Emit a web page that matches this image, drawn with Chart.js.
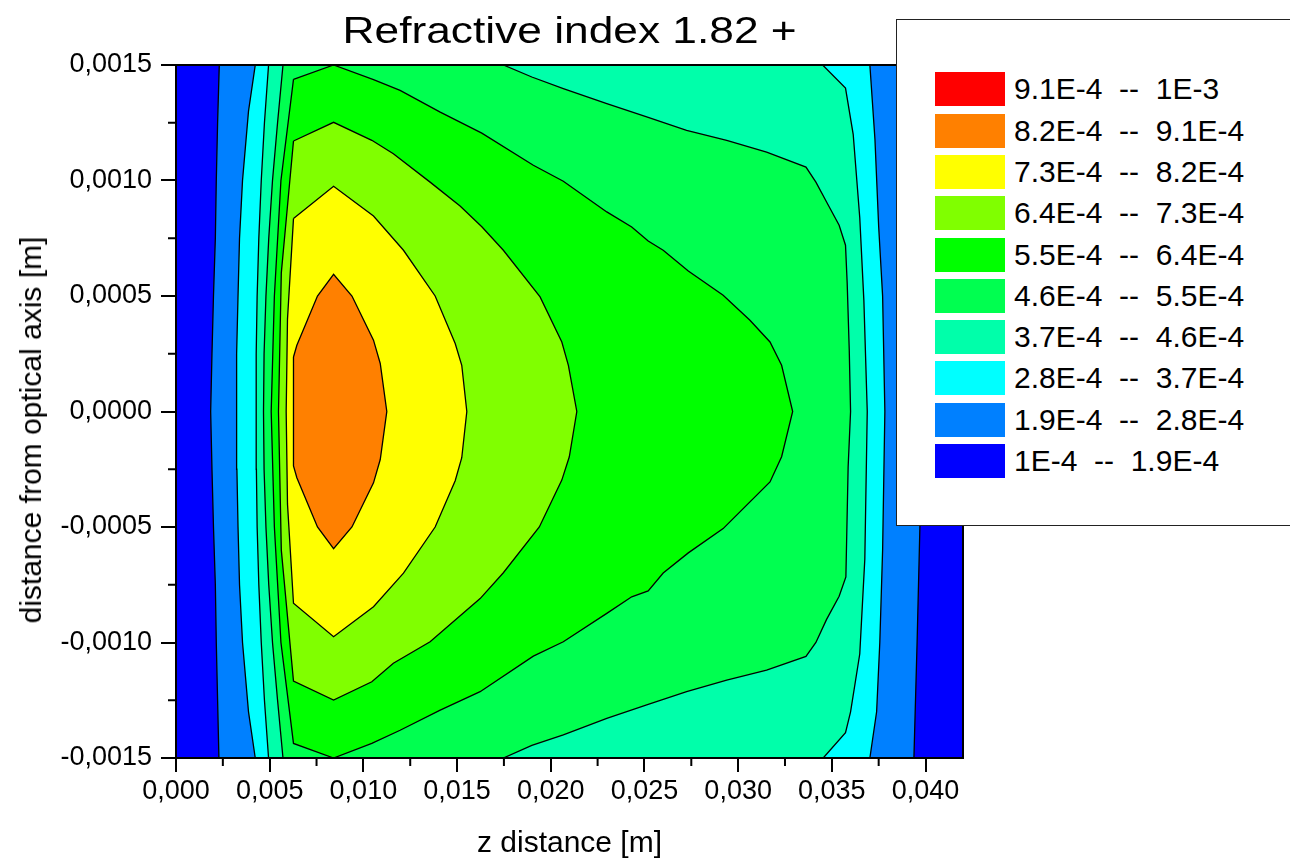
<!DOCTYPE html>
<html>
<head>
<meta charset="utf-8">
<title>Refractive index 1.82 +</title>
<script src="https://cdn.jsdelivr.net/npm/chart.js@4.4.1/dist/chart.umd.min.js"></script>
<style>
  body { margin: 0; background: #fff; font-family: 'Liberation Sans', Arial, sans-serif; color: #000; }
  #wrap { position: relative; width: 1290px; height: 859px; overflow: hidden; }
  #chart { position: absolute; left: 0; top: 0; }
  #title { position: absolute; left: 176px; width: 787px; top: 13px; text-align: center; font-size: 36px; line-height: 36px; }
  #title span { display: inline-block; transform: scaleX(1.23); }
  #ytitle { position: absolute; left: 31px; top: 430px; font-size: 30px; line-height: 30px; white-space: nowrap;
            transform: translate(-50%, -50%) rotate(-90deg); }
  #legend { position: absolute; left: 896px; top: 19px; width: 420px; height: 505px; background: #fff; border: 1px solid #222; }
  .row { position: absolute; left: 38px; height: 34px; display: flex; align-items: center; }
  .sw { width: 70px; height: 34px; margin-right: 9px; }
  .lab { font-size: 30px; line-height: 34px; white-space: pre; }
</style>
</head>
<body>
<div id="wrap">
  <canvas id="chart" width="1290" height="859"></canvas>
  <div id="title"><span>Refractive index 1.82 +</span></div>
  <div id="ytitle">distance from optical axis [m]</div>
  <div id="legend"></div>
</div>
<script>
// contour levels and band colours, lowest band first
const levels = ['1E-4', '1.9E-4', '2.8E-4', '3.7E-4', '4.6E-4', '5.5E-4', '6.4E-4', '7.3E-4', '8.2E-4', '9.1E-4', '1E-3'];
const bandColors = ['#0000ff', '#0080ff', '#00ffff', '#00ffaa', '#00ff50', '#00ff00', '#80ff00', '#ffff00', '#ff8000', '#ff0000'];

// axis ticks (scale values in mm, labels in m)
const zTicks = [0, 5, 10, 15, 20, 25, 30, 35, 40];
const zTickLabels = ['0,000', '0,005', '0,010', '0,015', '0,020', '0,025', '0,030', '0,035', '0,040'];
const zMinor = [2.5, 7.5, 12.5, 17.5, 22.5, 27.5, 32.5, 37.5];
const rTicks = [-1.5, -1, -0.5, 0, 0.5, 1, 1.5];
const rTickLabels = ['-0,0015', '-0,0010', '-0,0005', '0,0000', '0,0005', '0,0010', '0,0015'];
const rMinor = [-1.25, -0.75, -0.25, 0.25, 0.75, 1.25];

// outlines [z mm, r mm] of the area above each level
const above1E4 = [[0, 1.5], [42, 1.5], [42, -1.5], [0, -1.5]];
const above19E4 = [[2.31, 1.5], [39.38, 1.5], [39.55, 1.0], [39.7, 0.5], [39.78, 0], [39.7, -0.5], [39.55, -1.0], [39.38, -1.5],
  [2.29, -1.5], [2.22, -1.25], [2.15, -1.0], [2.1, -0.75], [2.0, -0.5], [1.92, -0.25], [1.85, 0],
  [1.92, 0.25], [2.0, 0.5], [2.1, 0.75], [2.15, 1.0], [2.22, 1.25]];
const above28E4 = [[4.23, 1.5], [37.03, 1.5], [37.3, 1.18], [37.5, 0.8], [37.71, 0.5], [37.83, 0], [37.71, -0.6], [37.56, -1.0],
  [37.39, -1.3], [37.03, -1.5], [4.23, -1.5], [3.87, -1.3], [3.55, -1.0], [3.39, -0.75], [3.31, -0.5], [3.25, -0.25], [3.22, 0],
  [3.25, 0.25], [3.31, 0.5], [3.39, 0.75], [3.55, 1.0], [3.87, 1.3]];
const above37E4 = [[4.94, 1.5], [34.51, 1.5], [35.73, 1.4], [36.14, 1.2], [36.49, 0.84], [36.71, 0.48], [36.89, 0],
  [36.76, -0.64], [36.49, -1.05], [36.0, -1.3], [35.73, -1.39], [34.54, -1.5],
  [4.94, -1.5], [4.72, -1.25], [4.55, -1.0], [4.42, -0.75], [4.33, -0.5], [4.29, -0.25], [4.27, 0],
  [4.29, 0.25], [4.33, 0.5], [4.42, 0.75], [4.55, 1.0], [4.72, 1.25]];
const above46E4 = [[5.71, 1.5], [17.47, 1.5], [18.99, 1.448], [20.67, 1.398], [22.99, 1.333], [25.12, 1.275], [27.25, 1.217],
  [29.39, 1.174], [31.52, 1.123], [33.62, 1.058], [34.15, 0.993], [34.72, 0.907], [35.39, 0.806], [35.73, 0.72],
  [35.82, 0.554], [35.93, 0.265], [36.0, 0], [35.87, -0.24], [35.75, -0.716], [35.39, -0.8], [34.72, -0.9], [34.15, -1.0],
  [33.62, -1.06], [31.52, -1.12], [29.39, -1.163], [27.25, -1.213], [25.12, -1.27], [22.99, -1.328], [20.67, -1.4],
  [18.99, -1.445], [17.47, -1.5], [5.71, -1.5], [5.42, -1.25], [5.15, -1.0], [4.95, -0.75], [4.8, -0.5], [4.7, -0.25],
  [4.67, 0], [4.7, 0.25], [4.8, 0.5], [4.95, 0.75], [5.15, 1.0], [5.42, 1.25]];
const above55E4 = [[6.27, 1.438], [8.41, 1.5], [10.54, 1.437], [11.96, 1.39], [14.1, 1.296], [16.32, 1.205], [19.07, 1.066],
  [20.67, 0.997], [22.99, 0.864], [24.32, 0.799], [25.2, 0.738], [26.0, 0.698], [27.34, 0.608], [29.2, 0.503],
  [30.63, 0.395], [31.7, 0.301], [32.32, 0.2], [32.91, 0], [32.32, -0.196], [31.7, -0.305], [29.2, -0.507],
  [27.34, -0.612], [26.0, -0.699], [25.2, -0.777], [24.32, -0.802], [22.99, -0.874], [20.67, -0.997], [19.07, -1.059],
  [16.23, -1.213], [14.1, -1.293], [11.96, -1.38], [10.45, -1.437], [8.41, -1.5], [6.27, -1.437],
  [5.6, -1.0], [5.25, -0.5], [5.08, 0], [5.25, 0.5], [5.6, 1.0]];
const above64E4 = [[6.27, 1.171], [8.41, 1.252], [10.45, 1.174], [11.6, 1.116], [13.56, 0.993], [15.16, 0.89], [16.32, 0.8],
  [17.47, 0.698], [19.43, 0.496], [20.59, 0.301], [20.94, 0.2], [21.39, 0], [20.99, -0.196], [20.59, -0.297],
  [19.39, -0.5], [17.47, -0.698], [16.23, -0.81], [13.56, -0.997], [11.6, -1.09], [10.45, -1.17], [8.41, -1.249],
  [6.27, -1.167], [5.62, -0.6], [5.47, 0], [5.62, 0.6]];
const above73E4 = [[6.27, 0.835], [8.41, 0.975], [10.54, 0.846], [12.14, 0.698], [13.83, 0.5], [14.9, 0.294], [15.25, 0.2],
  [15.52, 0], [15.25, -0.2], [14.9, -0.3], [13.83, -0.5], [12.14, -0.7], [10.54, -0.845], [8.41, -0.975], [6.27, -0.83],
  [5.95, -0.4], [5.88, 0], [5.95, 0.4]];
const above82E4 = [[6.27, 0.236], [6.45, 0.287], [7.55, 0.5], [8.41, 0.594], [9.39, 0.5], [10.54, 0.309], [10.9, 0.208],
  [11.25, 0], [10.9, -0.208], [10.54, -0.309], [9.39, -0.5], [8.41, -0.594], [7.55, -0.5], [6.45, -0.287], [6.27, -0.236]];

const regions = [above1E4, above19E4, above28E4, above37E4, above46E4, above55E4, above64E4, above73E4, above82E4];

// legend, highest band on top
const legendBox = document.getElementById('legend');
for (let i = bandColors.length - 1, row = 0; i >= 0; i--, row++) {
  const item = document.createElement('div');
  item.className = 'row';
  item.style.top = (52.3 + row * 41.3) + 'px';
  item.innerHTML = '<div class="sw" style="background:' + bandColors[i] + '"></div>' +
    '<span class="lab">' + levels[i] + '  --  ' + levels[i + 1] + '</span>';
  legendBox.appendChild(item);
}

const datasets = regions.map((pts, i) => ({
  label: levels[i],
  data: pts.concat([pts[0]]).map(([z, r]) => ({ x: z, y: r })),
  showLine: true,
  fill: 'shape',
  backgroundColor: bandColors[i],
  borderColor: '#000',
  borderWidth: i === 0 ? 0 : 1.3,
  pointRadius: 0,
  pointHoverRadius: 0,
  tension: 0,
  order: regions.length - i
}));

// short ticks between labelled ones, plus the frame round the plot
const minorTicks = {
  id: 'minorTicks',
  afterDraw(chart) {
    const { ctx, chartArea: a, scales: { x, y } } = chart;
    ctx.save();
    ctx.strokeStyle = '#000';
    ctx.lineWidth = 2;
    ctx.beginPath();
    zMinor.forEach(v => {
      const px = x.getPixelForValue(v);
      ctx.moveTo(px, a.bottom);
      ctx.lineTo(px, a.bottom + 8);
    });
    rMinor.forEach(v => {
      const py = y.getPixelForValue(v);
      ctx.moveTo(a.left, py);
      ctx.lineTo(a.left - 8, py);
    });
    ctx.stroke();
    ctx.strokeRect(a.left, a.top, a.right - a.left, a.bottom - a.top);
    ctx.restore();
  }
};

const tickFont = { family: "'Liberation Sans', Arial, sans-serif", size: 27 };

new Chart(document.getElementById('chart'), {
  type: 'scatter',
  data: { datasets },
  options: {
    responsive: false,
    animation: false,
    devicePixelRatio: 1,
    events: [],
    layout: { padding: { left: 0, top: 65, right: 327, bottom: 0 } },
    plugins: {
      legend: { display: false },
      tooltip: { enabled: false }
    },
    scales: {
      x: {
        type: 'linear',
        min: 0,
        max: 42,
        afterBuildTicks: s => { s.ticks = zTicks.map(v => ({ value: v })); },
        afterFit: s => { s.height = 101; },
        ticks: {
          autoSkip: false,
          maxRotation: 0,
          padding: 3,
          color: '#000',
          font: tickFont,
          callback: (v, i) => zTickLabels[i]
        },
        grid: { drawOnChartArea: false, color: '#000', lineWidth: 2, tickLength: 14 },
        border: { color: '#000', width: 2 },
        title: {
          display: true,
          text: 'z distance [m]',
          color: '#000',
          font: { family: "'Liberation Sans', Arial, sans-serif", size: 30 },
          padding: { top: 0, bottom: -3 }
        }
      },
      y: {
        type: 'linear',
        min: -1.5,
        max: 1.5,
        afterBuildTicks: s => { s.ticks = rTicks.map(v => ({ value: v })); },
        afterFit: s => { s.width = 176; },
        ticks: {
          autoSkip: false,
          padding: 9,
          color: '#000',
          font: tickFont,
          callback: (v, i) => rTickLabels[i]
        },
        grid: { drawOnChartArea: false, color: '#000', lineWidth: 2, tickLength: 15 },
        border: { color: '#000', width: 2 }
      }
    }
  },
  plugins: [minorTicks]
});
</script>
</body>
</html>
